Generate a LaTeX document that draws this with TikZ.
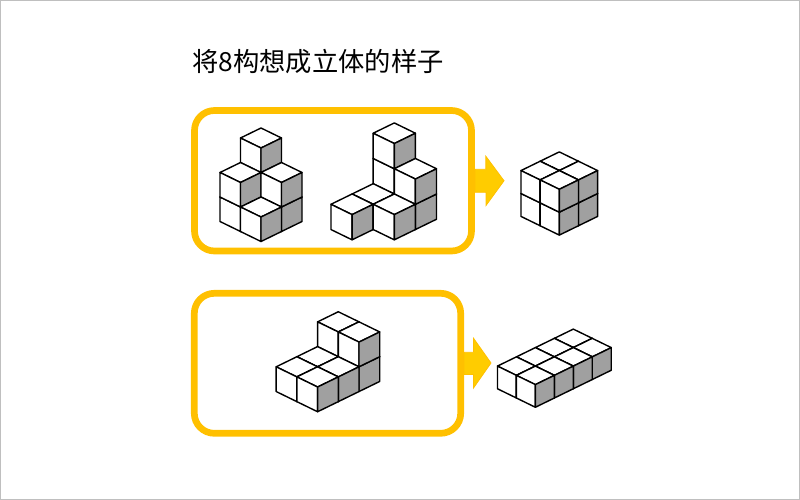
\documentclass[tikz,border=0pt]{standalone}
\usepackage{fontspec}
\newfontfamily\cjk{Noto Sans CJK SC}
\usetikzlibrary{positioning}

\definecolor{panelgold}{HTML}{FFC000}
\definecolor{arrowgold}{HTML}{FFCC00}
\definecolor{shadeface}{HTML}{A0A0A0}

% one unit cube, #1 and #2 on the floor, #3 the level
\newcommand{\isocube}[3]{
	\begin{scope}[shift={({20.5*(#1-#2)},{10*(#1+#2)-24.5*#3})}]
		\draw[cubeline, fill=white] (0,0) -- (-20.5,-10) -- (0,-20) -- (20.5,-10) -- cycle;
		\draw[cubeline, fill=white] (0,0) -- (-20.5,-10) -- (-20.5,14.5) -- (0,24.5) -- cycle;
		\draw[cubeline, fill=shadeface] (0,0) -- (20.5,-10) -- (20.5,14.5) -- (0,24.5) -- cycle;
	\end{scope}
}

\begin{document}
\begin{tikzpicture}[x=1pt, y=-1pt, cubeline/.style={draw=black, line width=1.4pt, line join=round}, panel/.style={draw=panelgold, line width=6.7pt, rounded corners=20pt, inner sep=0pt}, blockarrow/.style={draw=panelgold, fill=arrowgold, line width=0.8pt, line join=miter}]
	\useasboundingbox (0,0) rectangle (800,500);
	\draw[draw=black!25, line width=1pt] (0.5,0.5) rectangle (799.5,499.5);

	% Title
	\node[anchor=west, inner sep=0pt, font=\cjk\fontsize{26.3}{26.3}\selectfont] (title) at (192.3,61.3) {将8构想成立体的样子};

	% Panels
	\node[panel, minimum width=277pt, minimum height=140.5pt] (upper) at (333,180.75) {};
	\node[panel, minimum width=266.4pt, minimum height=140pt] (lower) at (327.5,363.3) {};

	% Block arrows
	\draw[blockarrow] (upper.east) ++(0,-11.5) -- ++(11,0) -- ++(0,-13) -- (504,180.75) -- (486,205.5) -- ++(0,-13.25) -- (upper.east |- 0,192.25) -- cycle;
	\draw[blockarrow] (lower.east) ++(0,-11) -- ++(9.5,0) -- ++(0,-14) -- (491,363) -- (473.5,388) -- ++(0,-13.5) -- (lower.east |- 0,374.5) -- cycle;

	% Upper left stack
	\begin{scope}[shift={(261,197)}]
		\foreach \i/\j/\k in {0/0/0,0/0/1,0/0/2,0/1/0,0/1/1,1/0/0,1/0/1,1/1/0} {\isocube{\i}{\j}{\k}}
	\end{scope}

	% Upper middle stack
	\begin{scope}[shift={(394.3,194)}, scale=1.03]
		\foreach \i/\j/\k in {0/0/0,0/0/1,0/0/2,0/1/0,0/2/0,1/0/0,1/0/1,1/1/0} {\isocube{\i}{\j}{\k}}
	\end{scope}

	% Upper result
	\begin{scope}[shift={(559.3,193.5)}, scale=0.935]
		\foreach \i in {0,1} \foreach \j in {0,1} \foreach \k in {0,1} {\isocube{\i}{\j}{\k}}
	\end{scope}

	% Lower stack
	\begin{scope}[shift={(338.3,356.7)}, scale=1.01]
		\foreach \i/\j/\k in {0/0/0,0/0/1,0/1/0,0/2/0,1/0/0,1/0/1,1/1/0,1/2/0} {\isocube{\i}{\j}{\k}}
	\end{scope}

	% Lower result
	\begin{scope}[shift={(573.3,347.6)}, scale=0.925]
		\foreach \i in {0,1} \foreach \j in {0,1,2,3} {\isocube{\i}{\j}{0}}
	\end{scope}
\end{tikzpicture}
\end{document}
